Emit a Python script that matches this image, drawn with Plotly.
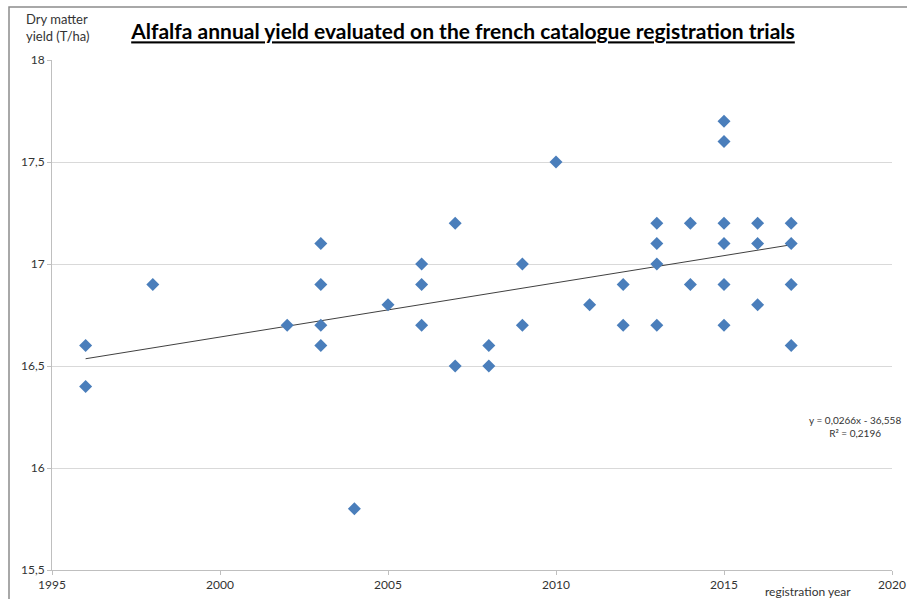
import plotly.graph_objects as go

# ---- data ----
years = [1996, 1996, 1998, 2002, 2003, 2003, 2003, 2003, 2004, 2005,
         2006, 2006, 2006, 2007, 2007, 2008, 2008, 2009, 2009, 2010,
         2011, 2012, 2012, 2013, 2013, 2013, 2013, 2014, 2014,
         2015, 2015, 2015, 2015, 2015, 2015, 2016, 2016, 2016,
         2017, 2017, 2017, 2017]
yields = [16.6, 16.4, 16.9, 16.7, 17.1, 16.9, 16.7, 16.6, 15.8, 16.8,
          17.0, 16.9, 16.7, 17.2, 16.5, 16.6, 16.5, 17.0, 16.7, 17.5,
          16.8, 16.9, 16.7, 17.2, 17.1, 17.0, 16.7, 17.2, 16.9,
          17.7, 17.6, 17.2, 17.1, 16.9, 16.7, 17.2, 17.1, 16.8,
          17.2, 17.1, 16.9, 16.6]
trend_slope = 0.0266
trend_intercept = -36.558
trend_r2 = 0.2196
x_ticks = [1995, 2000, 2005, 2010, 2015, 2020]
y_ticks = [15.5, 16, 16.5, 17, 17.5, 18]
y_tick_text = ["15,5", "16", "16,5", "17", "17,5", "18"]

FONT = "Lato"
W, H = 907, 599
L, R, T, B = 52, 15, 60, 29
pw, ph = W - L - R, H - T - B

def px(xp):
    return (xp - L) / pw

def py(yp):
    return (H - B - yp) / ph

tx = [min(years), max(years)]
ty = [trend_slope * v + trend_intercept for v in tx]

fig = go.Figure()
fig.add_trace(go.Scatter(x=tx, y=ty, mode="lines",
                         line=dict(color="#404040", width=1), hoverinfo="skip"))
fig.add_trace(go.Scatter(x=years, y=yields, mode="markers",
                         marker=dict(symbol="diamond", size=10, color="#4A7EBB",
                                     line=dict(width=0))))

fig.update_layout(
    width=W, height=H,
    margin=dict(l=L, r=R, t=T, b=B, autoexpand=False),
    paper_bgcolor="white", plot_bgcolor="white",
    showlegend=False,
    font=dict(family=FONT, size=12, color="#333333"),
    title=dict(text="<b><u>Alfalfa annual yield evaluated on the french catalogue registration trials</u></b>",
               x=463 / W, xanchor="center", y=1 - 32 / H, yanchor="middle",
               font=dict(family=FONT, size=21, color="#000000")),
    xaxis=dict(range=[1995, 2020], tickvals=x_ticks, ticktext=[str(v) for v in x_ticks],
               showgrid=False, zeroline=False, showline=True, linecolor="#BFBFBF",
               ticks="outside", ticklen=4, tickcolor="#BFBFBF", automargin=False,
               tickfont=dict(size=12, color="#333333")),
    yaxis=dict(range=[15.5, 18], tickvals=y_ticks, ticktext=y_tick_text,
               showgrid=True, gridcolor="#D9D9D9", zeroline=False,
               showline=True, linecolor="#BFBFBF", automargin=False,
               ticks="outside", ticklen=4, tickcolor="#BFBFBF",
               tickfont=dict(size=12, color="#333333")),
    annotations=[
        dict(text="Dry matter<br>yield (T/ha)", xref="paper", yref="paper",
             x=px(24), y=py(9), xanchor="left", yanchor="top", align="left",
             showarrow=False, font=dict(size=13, color="#333333")),
        dict(text="registration year", xref="paper", yref="paper",
             x=px(808), y=py(591), xanchor="center", yanchor="middle",
             showarrow=False, font=dict(size=12, color="#333333")),
        dict(text="y = 0,0266x - 36,558<br>R² = 0,2196", xref="paper", yref="paper",
             x=px(903), y=py(426), xanchor="right", yanchor="middle", align="center",
             showarrow=False, font=dict(size=10, color="#333333")),
    ],
    shapes=[
        dict(type="rect", xref="paper", yref="paper",
             x0=px(9), x1=px(930), y0=py(620), y1=py(7),
             line=dict(color="#8C8C8C", width=1.5), fillcolor="rgba(0,0,0,0)"),
    ],
)

fig.write_html("out.html", config={"displayModeBar": False},
               post_script="document.body.style.margin='0';document.body.style.overflow='hidden';")
